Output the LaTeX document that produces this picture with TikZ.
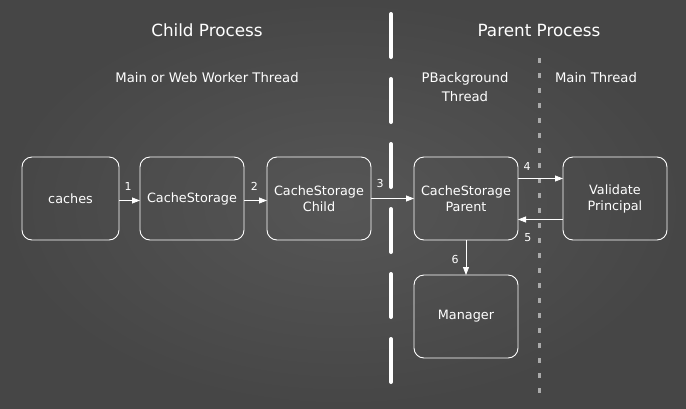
\documentclass[tikz,border=0pt]{standalone}
\usepackage{fontspec}
\setmainfont{DejaVu Sans}
\usetikzlibrary{positioning,arrows.meta}

\definecolor{boardlight}{RGB}{86,86,86}
\definecolor{boarddark}{RGB}{70,70,70}
\definecolor{dotgray}{RGB}{170,170,170}

\tikzset{
  box/.style={rectangle, draw=white, line width=0.9pt, rounded corners=10pt,
    minimum width=104pt, minimum height=83pt, outer sep=0pt, align=center,
    text=white, font=\fontsize{12.8}{16}\selectfont},
  flow/.style={draw=white, line width=0.8pt, -{Triangle[length=8pt,width=6pt]}},
  num/.style={text=white, font=\fontsize{11}{13}\selectfont, inner sep=1pt},
  title/.style={text=white, font=\fontsize{16.8}{20}\selectfont},
  thread/.style={text=white, align=center, font=\fontsize{13.2}{19}\selectfont}
}

\begin{document}
\begin{tikzpicture}[x=1pt, y=-1pt]
  % chalkboard
  \shade[inner color=boardlight, outer color=boarddark] (0,0) rectangle (686,408);
  \useasboundingbox (0,0) rectangle (686,408);

  % process boundary and thread boundary
  \draw[white, line width=4pt, line cap=round, dash pattern=on 43pt off 22pt] (391,14) -- (391,384);
  \draw[dotgray, line width=3pt, dash pattern=on 5pt off 10pt] (539,58) -- (539,395);

  % headings
  \node (child) [title] at (207,30) {Child Process};
  \node (parentp) [title] at (539,30) {Parent Process};
  \node (worker) [thread] at (207,78) {Main or Web Worker Thread};
  \node (pbg) [thread] at (465,87) {PBackground\\Thread};
  \node (mainthr) [thread] at (596,78) {Main Thread};

  % boxes
  \node (caches) [box, minimum width=97pt] at (70.5,198.5) {caches};
  \node (cstorage) [box, right=21pt of caches] {CacheStorage};
  \node (cschild) [box, right=23pt of cstorage] {CacheStorage\\Child};
  \node (csparent) [box, right=43pt of cschild] {CacheStorage\\Parent};
  \node (validate) [box, right=45pt of csparent] {Validate\\Principal};
  \node (manager) [box, below=35pt of csparent] {Manager};

  % messages
  \draw[flow] ([yshift=-2pt]caches.east) -- node[num, pos=0.43, above=9pt] {1} ([yshift=-2pt]cstorage.west);
  \draw[flow] ([yshift=-2pt]cstorage.east) -- node[num, pos=0.45, above=9pt] {2} ([yshift=-2pt]cschild.west);
  \draw[flow] (cschild) -- node[num, pos=0.21, above=9pt] {3} (csparent);
  \draw[flow] ([yshift=20pt]csparent.east) -- node[num, pos=0.2, above=7pt] {4} ([yshift=20pt]validate.west);
  \draw[flow] ([yshift=-21pt]validate.west) -- node[num, pos=0.78, below=13pt] {5} ([yshift=-21pt]csparent.east);
  \draw[flow] (csparent) -- node[num, pos=0.55, left=6pt] {6} (manager);
\end{tikzpicture}
\end{document}
